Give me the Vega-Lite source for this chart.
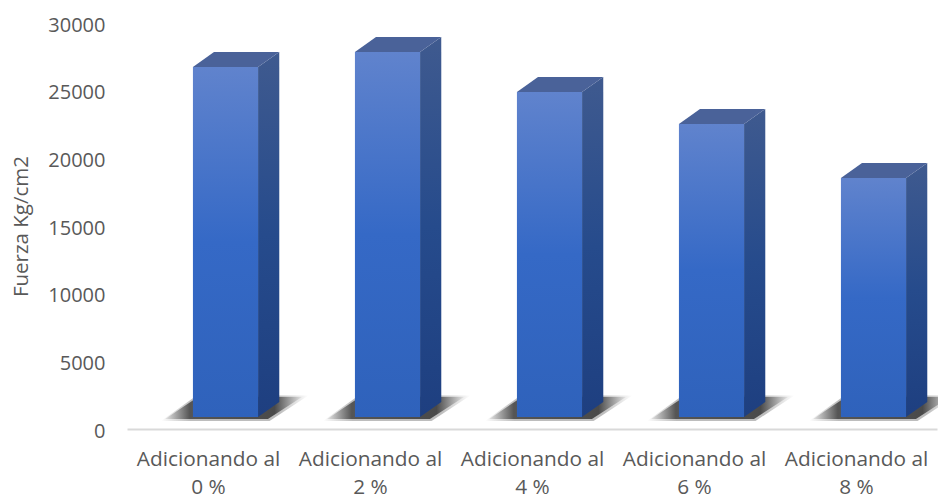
{
  "$schema": "https://vega.github.io/schema/vega-lite/v6.json",
  "width": 810,
  "height": 406,
  "autosize": "none",
  "padding": {"left": 127, "top": 23, "right": 1, "bottom": 71},
  "background": "#ffffff",
  "config": {"view": {"stroke": null}, "font": "Open Sans"},
  "data": {
    "values": [
      {"posicion": 0, "categoria": "Adicionando al 0 %", "fuerza": 26750},
      {"posicion": 1, "categoria": "Adicionando al 2 %", "fuerza": 27860},
      {"posicion": 2, "categoria": "Adicionando al 4 %", "fuerza": 24900},
      {"posicion": 3, "categoria": "Adicionando al 6 %", "fuerza": 22540},
      {"posicion": 4, "categoria": "Adicionando al 8 %", "fuerza": 18550}
    ]
  },
  "layer": [
    {
      "description": "Soft outer halo of the floor shadow",
      "transform": [
        {"calculate": "datum.posicion - 0.29", "as": "a"},
        {"calculate": "datum.posicion - 0.07", "as": "b"},
        {"calculate": "datum.posicion + 0.38", "as": "c"},
        {"calculate": "datum.posicion + 0.62", "as": "d"},
        {"fold": ["a", "b", "c", "d"], "as": ["esquina", "xp"]},
        {"calculate": "datum.esquina === 'a' ? 600 : 2480", "as": "ysup"},
        {"calculate": "datum.esquina === 'd' ? 2480 : 600", "as": "yinf"}
      ],
      "mark": {
        "type": "area",
        "fill": {
          "x1": 0, "y1": 0, "x2": 1, "y2": 0, "gradient": "linear",
          "stops": [
            {"offset": 0, "color": "#ffffff"},
            {"offset": 0.2, "color": "#bdbdbd"},
            {"offset": 0.8, "color": "#bdbdbd"},
            {"offset": 1, "color": "#ffffff"}
          ]
        }
      },
      "encoding": {
        "x": {"field": "xp", "type": "quantitative", "scale": {"domain": [-0.5, 4.5]},
          "axis": {
            "values": [0, 1, 2, 3, 4],
            "title": null, "grid": false, "ticks": false,
            "domainColor": "#d9d9d9", "domainWidth": 2,
            "labelFontSize": 20.8, "labelColor": "#595959", "labelPadding": 20,
            "labelLineHeight": 28,
            "labelExpr": "['Adicionando al', (datum.value * 2) + ' %']"
          }
        },
        "y": {"field": "ysup", "type": "quantitative", "scale": {"domain": [0, 30000]},
          "axis": {
            "values": [0, 5000, 10000, 15000, 20000, 25000, 30000],
            "format": "d",
            "title": "Fuerza Kg/cm2", "titleFontSize": 20.5, "titleFontWeight": "normal",
            "titleColor": "#595959", "titleX": -96, "titleY": 203,
            "grid": false, "ticks": false, "domain": false,
            "labelFontSize": 20, "labelColor": "#595959", "labelPadding": 22, "labelOffset": 2
          }
        },
        "y2": {"field": "yinf"},
        "detail": {"field": "posicion"}
      }
    },
    {
      "description": "Floor shadow cast by each column",
      "transform": [
        {"calculate": "datum.posicion - 0.265", "as": "a"},
        {"calculate": "datum.posicion - 0.062", "as": "b"},
        {"calculate": "datum.posicion + 0.37", "as": "c"},
        {"calculate": "datum.posicion + 0.58", "as": "d"},
        {"fold": ["a", "b", "c", "d"], "as": ["esquina", "xp"]},
        {"calculate": "datum.esquina === 'a' ? 739 : 2365", "as": "ysup"},
        {"calculate": "datum.esquina === 'd' ? 2365 : 739", "as": "yinf"}
      ],
      "mark": {
        "type": "area",
        "fill": {
          "x1": 0, "y1": 0, "x2": 1, "y2": 0, "gradient": "linear",
          "stops": [
            {"offset": 0, "color": "#e6e6e6"},
            {"offset": 0.18, "color": "#555555"},
            {"offset": 0.8, "color": "#4a4a4a"},
            {"offset": 1, "color": "#e6e6e6"}
          ]
        }
      },
      "encoding": {
        "x": {"field": "xp", "type": "quantitative"},
        "y": {"field": "ysup", "type": "quantitative"},
        "y2": {"field": "yinf"},
        "detail": {"field": "posicion"}
      }
    },
    {
      "description": "Right-hand side face of each column",
      "transform": [
        {"calculate": "datum.posicion + 0.309", "as": "frente"},
        {"calculate": "datum.posicion + 0.44", "as": "fondo"},
        {"fold": ["frente", "fondo"], "as": ["esquina", "xp"]},
        {"calculate": "datum.esquina === 'frente' ? datum.fuerza : datum.fuerza + 1108", "as": "ysup"},
        {"calculate": "datum.esquina === 'frente' ? 887 : 1995", "as": "yinf"}
      ],
      "mark": {
        "type": "area",
        "fill": {
          "x1": 0, "y1": 0, "x2": 0, "y2": 1, "gradient": "linear",
          "stops": [
            {"offset": 0, "color": "#3f5a8f"},
            {"offset": 0.5, "color": "#264b8c"},
            {"offset": 1, "color": "#1e3f80"}
          ]
        }
      },
      "encoding": {
        "x": {"field": "xp", "type": "quantitative"},
        "y": {"field": "ysup", "type": "quantitative"},
        "y2": {"field": "yinf"},
        "detail": {"field": "posicion"}
      }
    },
    {
      "description": "Top face of each column",
      "transform": [
        {"calculate": "datum.posicion - 0.093", "as": "a"},
        {"calculate": "datum.posicion + 0.037", "as": "b"},
        {"calculate": "datum.posicion + 0.309", "as": "c"},
        {"calculate": "datum.posicion + 0.44", "as": "d"},
        {"fold": ["a", "b", "c", "d"], "as": ["esquina", "xp"]},
        {"calculate": "datum.esquina === 'a' ? datum.fuerza : datum.fuerza + 1108", "as": "ysup"},
        {"calculate": "datum.esquina === 'd' ? datum.fuerza + 1108 : datum.fuerza", "as": "yinf"}
      ],
      "mark": {"type": "area", "fill": "#4a6299"},
      "encoding": {
        "x": {"field": "xp", "type": "quantitative"},
        "y": {"field": "ysup", "type": "quantitative"},
        "y2": {"field": "yinf"},
        "detail": {"field": "posicion"}
      }
    },
    {
      "description": "Front face of each column",
      "transform": [
        {"calculate": "datum.posicion - 0.093", "as": "izq"},
        {"calculate": "datum.posicion + 0.309", "as": "der"},
        {"calculate": "887", "as": "piso"}
      ],
      "mark": {
        "type": "rect",
        "fill": {
          "x1": 0, "y1": 0, "x2": 0, "y2": 1, "gradient": "linear",
          "stops": [
            {"offset": 0, "color": "#6083cd"},
            {"offset": 0.5, "color": "#3569c6"},
            {"offset": 1, "color": "#2f62bb"}
          ]
        }
      },
      "encoding": {
        "x": {"field": "izq", "type": "quantitative"},
        "x2": {"field": "der"},
        "y": {"field": "fuerza", "type": "quantitative"},
        "y2": {"field": "piso"},
        "tooltip": {"field": "categoria"}
      }
    }
  ]
}
